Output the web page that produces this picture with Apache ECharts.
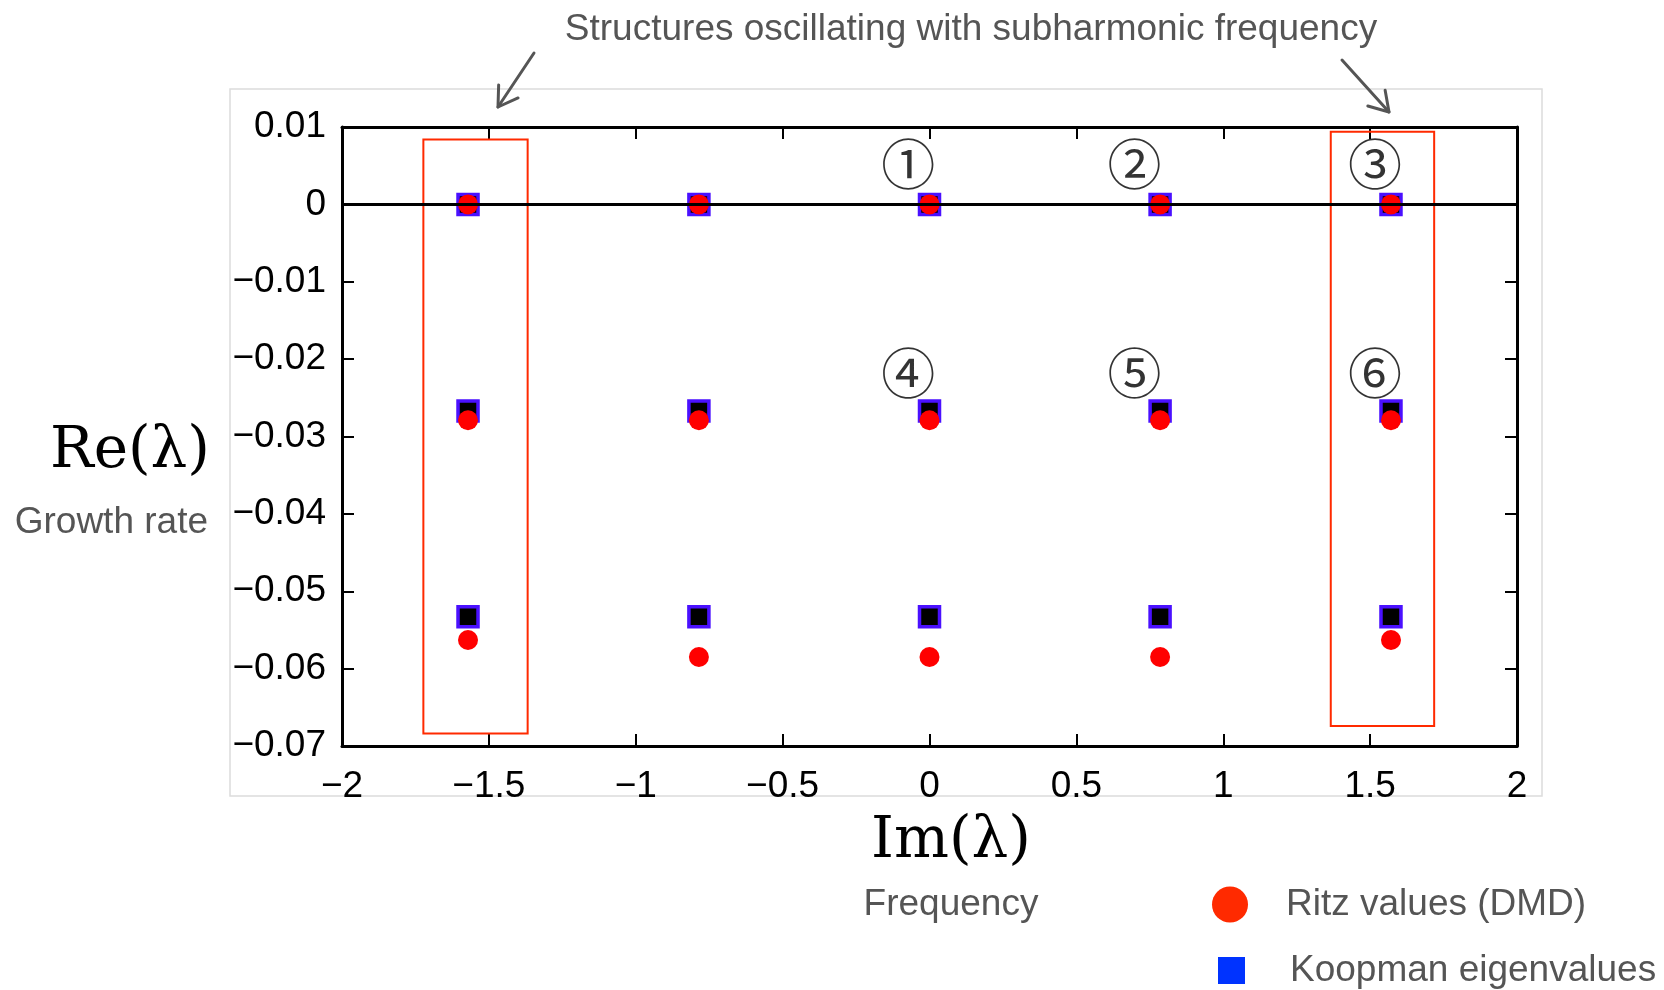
<!DOCTYPE html>
<html><head><meta charset="utf-8">
<script src="https://cdn.jsdelivr.net/npm/echarts@6/dist/echarts.min.js"></script>
<style>html,body{margin:0;padding:0;background:#fff}#c{width:1664px;height:990px}</style>
</head><body><div id="c"></div>
<script>
// ---- data ----
const frequencies = [-1.571, -0.785, 0, 0.785, 1.571];
const koopmanRe1 = [0, 0, 0, 0, 0];
const koopmanRe2 = [-0.0267, -0.0267, -0.0267, -0.0267, -0.0267];
const koopmanRe3 = [-0.0533, -0.0533, -0.0533, -0.0533, -0.0533];
const ritzRe1 = [0, 0, 0, 0, 0];
const ritzRe2 = [-0.0279, -0.0279, -0.0279, -0.0279, -0.0279];
const ritzRe3 = [-0.0563, -0.0585, -0.0585, -0.0585, -0.0563];
const xTickLabels = ['\u22122', '\u22121.5', '\u22121', '\u22120.5', '0', '0.5', '1', '1.5', '2'];
const yTickLabels = ['\u22120.07', '\u22120.06', '\u22120.05', '\u22120.04', '\u22120.03', '\u22120.02', '\u22120.01', '0', '0.01'];
const modeLabels = ['\u2460', '\u2461', '\u2462', '\u2463', '\u2464', '\u2465'];
const modeLabelIm = [-0.072, 0.698, 1.517, -0.072, 0.698, 1.517];
const modeLabelRe = [0.0052, 0.0052, 0.0052, -0.0219, -0.0219, -0.0219];
const boxIm = [[-1.723, -1.368], [1.366, 1.718]];
const boxRe = [[0.0084, -0.0684], [0.0094, -0.0674]];
const seriesNames = ['Ritz values (DMD)', 'Koopman eigenvalues'];

const X_MIN = -2, X_MAX = 2, X_STEP = 0.5;
const Y_MIN = -0.07, Y_MAX = 0.01, Y_STEP = 0.01;

function pairs(xs, ys) { return xs.map((x, i) => [x, ys[i]]); }
const koopmanData = [].concat(pairs(frequencies, koopmanRe1), pairs(frequencies, koopmanRe2), pairs(frequencies, koopmanRe3));
const ritzData = [].concat(pairs(frequencies, ritzRe1), pairs(frequencies, ritzRe2), pairs(frequencies, ritzRe3));
const modeData = modeLabels.map((t, i) => [modeLabelIm[i], modeLabelRe[i], t]);

const SANS = 'Liberation Sans, Arial, Helvetica, sans-serif';
const SERIF = 'DejaVu Serif, Liberation Serif, serif';
const GREY = '#555555';
const TXT = 37;

function arrow(x1, y1, x2, y2) {
  const dx = x2 - x1, dy = y2 - y1, L = Math.hypot(dx, dy);
  const ux = -dx / L, uy = -dy / L, a = 32 * Math.PI / 180, len = 22;
  const r = (s) => [x2 + len * (ux * Math.cos(s * a) - uy * Math.sin(s * a)), y2 + len * (ux * Math.sin(s * a) + uy * Math.cos(s * a))];
  const style = { stroke: GREY, lineWidth: 3, fill: null, lineCap: 'round', lineJoin: 'round' };
  return [
    { type: 'line', shape: { x1, y1, x2, y2 }, style },
    { type: 'polyline', shape: { points: [r(1), [x2, y2], r(-1)] }, style }
  ];
}

const xAxisBase = {
  type: 'value', min: X_MIN, max: X_MAX, interval: X_STEP,
  axisLine: { show: true, onZero: false, lineStyle: { color: '#000', width: 3 } },
  axisTick: { show: true, inside: true, length: 12, lineStyle: { color: '#000', width: 2 } },
  splitLine: { show: false }
};
const yAxisBase = {
  type: 'value', min: Y_MIN, max: Y_MAX, interval: Y_STEP,
  axisLine: { show: true, onZero: false, lineStyle: { color: '#000', width: 3 } },
  axisTick: { show: true, inside: true, length: 12, lineStyle: { color: '#000', width: 2 } },
  splitLine: { show: false }
};

const chart = echarts.init(document.getElementById('c'), null, { renderer: 'canvas' });
chart.setOption({
  animation: false,
  backgroundColor: '#fff',
  grid: { left: 342, top: 127, width: 1175, height: 619 },
  xAxis: [
    Object.assign({}, xAxisBase, {
      position: 'bottom',
      axisLabel: {
        show: true, showMinLabel: true, showMaxLabel: true, margin: 22,
        fontSize: TXT, color: '#000', fontFamily: SANS,
        formatter: v => xTickLabels[Math.round((v - X_MIN) / X_STEP)]
      }
    }),
    Object.assign({}, xAxisBase, { position: 'top', axisLabel: { show: false } })
  ],
  yAxis: [
    Object.assign({}, yAxisBase, {
      position: 'left',
      axisLabel: {
        show: true, showMinLabel: true, showMaxLabel: true, margin: 16,
        fontSize: TXT, color: '#000', fontFamily: SANS,
        formatter: v => yTickLabels[Math.round((v - Y_MIN) / Y_STEP)]
      }
    }),
    Object.assign({}, yAxisBase, { position: 'right', axisLabel: { show: false } })
  ],
  legend: [
    {
      data: [{ name: seriesNames[0], icon: 'circle', itemStyle: { color: '#ff2a00', borderWidth: 0 } }],
      left: 1207, top: 881, itemWidth: 36, itemHeight: 36, selectedMode: false,
      textStyle: { fontSize: TXT, color: GREY, fontFamily: SANS, padding: [0, 0, 0, 33] }
    },
    {
      data: [{ name: seriesNames[1], icon: 'rect', itemStyle: { color: '#0033ff', borderWidth: 0 } }],
      left: 1213, top: 947, itemWidth: 27, itemHeight: 27, selectedMode: false,
      textStyle: { fontSize: TXT, color: GREY, fontFamily: SANS, padding: [0, 0, 0, 40] }
    }
  ],
  series: [
    {
      name: 'frame', type: 'scatter', data: [], z: 1,
      markLine: {
        silent: true, symbol: ['none', 'none'], label: { show: false },
        lineStyle: { color: '#000', width: 3, type: 'solid' },
        data: [{ yAxis: 0 }]
      },
      markArea: {
        silent: true, label: { show: false },
        itemStyle: { color: 'rgba(0,0,0,0)', borderColor: '#ff2a00', borderWidth: 2 },
        data: boxIm.map((bx, i) => [{ coord: [bx[0], boxRe[i][0]] }, { coord: [bx[1], boxRe[i][1]] }])
      }
    },
    {
      name: seriesNames[1], type: 'scatter', z: 3,
      symbol: 'rect', symbolSize: 20,
      itemStyle: { color: '#000000', borderColor: '#4a10ff', borderWidth: 3.5, opacity: 1 },
      data: koopmanData
    },
    {
      name: seriesNames[0], type: 'scatter', z: 4,
      symbol: 'circle', symbolSize: 20,
      itemStyle: { color: '#ff0000', opacity: 1 },
      data: ritzData
    },
    {
      name: 'modes', type: 'scatter', z: 5, symbolSize: 2, silent: true,
      itemStyle: { color: 'rgba(255,255,255,0)' },
      label: {
        show: true, position: 'inside', formatter: p => p.value[2],
        fontSize: 54, color: '#000', fontFamily: 'Noto Sans CJK JP'
      },
      labelLayout: { hideOverlap: false },
      data: modeData
    }
  ],
  graphic: [
    { type: 'rect', z: -10, shape: { x: 230, y: 89, width: 1312, height: 707 }, style: { fill: null, stroke: '#dcdcdc', lineWidth: 1.5 } },
    { type: 'text', x: 971, y: 30, style: { text: 'Structures oscillating with subharmonic frequency', fontSize: TXT, fontFamily: SANS, fill: GREY, align: 'center', verticalAlign: 'middle' } },
    { type: 'text', x: 210, y: 452, style: { text: 'Re(\u03bb)', fontSize: 58, fontFamily: SERIF, fill: '#000', align: 'right', verticalAlign: 'middle' } },
    { type: 'text', x: 208, y: 523, style: { text: 'Growth rate', fontSize: TXT, fontFamily: SANS, fill: GREY, align: 'right', verticalAlign: 'middle' } },
    { type: 'text', x: 951, y: 842, style: { text: 'Im(\u03bb)', fontSize: 58, fontFamily: SERIF, fill: '#000', align: 'center', verticalAlign: 'middle' } },
    { type: 'text', x: 951, y: 905, style: { text: 'Frequency', fontSize: TXT, fontFamily: SANS, fill: GREY, align: 'center', verticalAlign: 'middle' } }
  ].concat(arrow(534, 53, 498, 107), arrow(1342, 60, 1389, 112))
});
</script>
</body></html>
